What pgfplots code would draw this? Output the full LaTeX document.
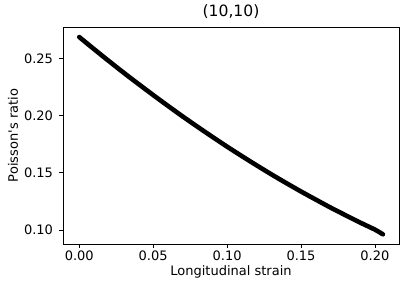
\documentclass[border=0pt]{standalone}
\usepackage{fontspec}
\setmainfont{DejaVu Sans}[Ligatures=TeXOff]
\usepackage{pgfplots}
\pgfplotsset{compat=1.18}
\begin{document}
\begin{tikzpicture}[x=1pt,y=1pt]
\useasboundingbox (-63pt,-46pt) rectangle (342pt,244pt);
\begin{axis}[
  at={(0pt,0pt)}, anchor=south west,
  scale only axis, width=336pt, height=217pt,
  xmin=-0.0110, xmax=0.2163, ymin=0.0877, ymax=0.2778,
  xtick={0,0.05,0.1,0.15,0.2}, ytick={0.1,0.15,0.2,0.25},
  tick pos=left, tick align=outside,
  major tick length=3.5pt,
  every tick/.style={black, line width=0.8pt},
  axis line style={line width=0.8pt},
  /pgf/number format/assume math mode=true,
  /pgf/number format/.cd, fixed, fixed zerofill, precision=2, /pgfplots/.cd,
  ticklabel style={font=\fontsize{13}{15}\selectfont},
  xticklabel style={yshift=0pt},
  yticklabel style={xshift=-3pt},
  xlabel={Longitudinal strain}, ylabel={Poisson's ratio},
  label style={font=\fontsize{13}{15}\selectfont},
  title={(10,10)},
  title style={font=\fontsize{15.6}{18}\selectfont, yshift=-1pt},
  xlabel style={yshift=2pt},
  ylabel style={yshift=-1pt},
]
\addplot[black, line width=4.6pt, line cap=round, line join=round, smooth] coordinates {
(0.000,0.2690)
(0.010,0.2584)
(0.020,0.2480)
(0.030,0.2378)
(0.040,0.2279)
(0.050,0.2182)
(0.060,0.2087)
(0.070,0.1994)
(0.080,0.1904)
(0.090,0.1816)
(0.100,0.1730)
(0.110,0.1647)
(0.120,0.1566)
(0.130,0.1487)
(0.140,0.1411)
(0.150,0.1337)
(0.160,0.1266)
(0.170,0.1196)
(0.180,0.1130)
(0.190,0.1065)
(0.200,0.1003)
(0.2054,0.0962)
};
\end{axis}
\end{tikzpicture}
\end{document}
